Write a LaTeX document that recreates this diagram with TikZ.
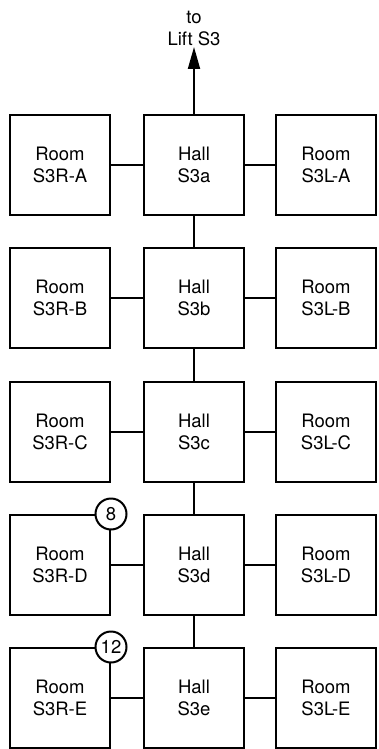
\documentclass[tikz,border=0pt]{standalone}
\usepackage{fontspec}
\setmainfont{TeX Gyre Heros}
\usetikzlibrary{arrows.meta}
\begin{document}
\begin{tikzpicture}[x=1pt,y=-1pt,
  every node/.style={font=\fontsize{18.5}{22}\selectfont, align=center},
  room/.style={draw, line width=2pt, minimum width=100pt, minimum height=100pt, inner sep=0pt, fill=white},
  link/.style={line width=2pt},
  badge/.style={draw, circle, line width=2pt, fill=white, minimum size=31pt, inner sep=0pt}]
\useasboundingbox (0,0) rectangle (378,749);
% rows
\foreach \r/\y/\l/\s in {a/165/A/a, b/298/B/b, c/432/C/c, d/565/D/d, e/698/E/e}{
  \node[room] (r\r) at (60,\y) {Room\\S3R-\l};
  \node[room] (h\r) at (194,\y) {Hall\\S3\s};
  \node[room] (l\r) at (326,\y) {Room\\S3L-\l};
  \draw[link] (r\r) -- (h\r);
  \draw[link] (h\r) -- (l\r);
}
\draw[link] (ha) -- (hb);
\draw[link] (hb) -- (hc);
\draw[link] (hc) -- (hd);
\draw[link] (hd) -- (he);
% lift
\node[inner sep=0pt] (lift) at (194,28) {to\\Lift S3};
\coordinate (tip) at (194,47);
\draw[link, -{Triangle[length=22pt,width=12pt]}] (ha.north) -- (tip);
% badges
\node[badge] (b8) at (rd.north east) {8};
\node[badge] (b12) at (re.north east) {12};
\end{tikzpicture}
\end{document}
